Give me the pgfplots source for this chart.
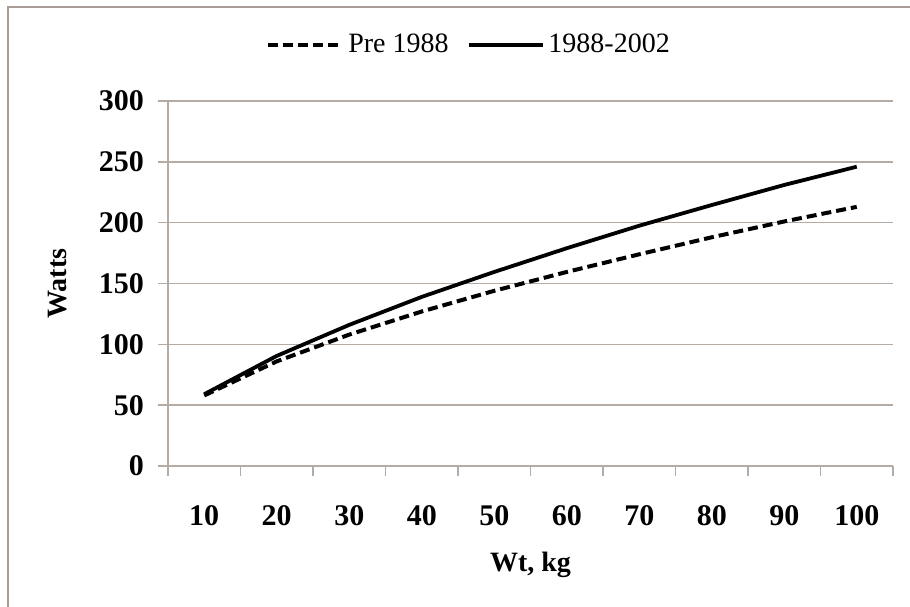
\documentclass[border=0pt]{standalone}
\usepackage{pgfplots}
\pgfplotsset{compat=1.18}
\usepackage{fontspec}
\setmainfont{Liberation Serif}
\definecolor{gridc}{HTML}{B5ABA5}
\definecolor{framec}{HTML}{A89C96}

\begin{document}
\begin{tikzpicture}
% page size: 910x606 px at 2 px per pt, axis lower left at (0,0)
\path[use as bounding box] (-84pt,-70pt) rectangle (371pt,233pt);
\fill[white] (-84pt,-70pt) rectangle (371pt,233pt);
\draw[framec, line width=1.1pt] (-80pt,-80pt) -- (-80pt,229.5pt) -- (380pt,229.5pt);
\begin{axis}[
    at={(0,0)}, anchor=south west,
    width=362.5pt, height=182.5pt,
    scale only axis,
    xmin=5, xmax=105,
    ymin=0, ymax=300,
    axis x line=bottom, axis y line=left,
    axis line style={gridc, line width=0.8pt, -},
    ytick={0,50,...,300},
    ymajorgrids=true,
    grid style={gridc, line width=0.8pt},
    xtick={5,15,...,105},
    xticklabels={},
    extra x ticks={10,20,...,100},
    extra x tick style={major tick length=0pt, grid=none},
    tick align=outside,
    major tick length=5pt,
    tick style={gridc, line width=0.8pt},
    /pgf/number format/assume math mode=true,
    ticklabel style={font=\bfseries\fontsize{15}{15}\selectfont, black},
    yticklabel style={xshift=-3.5pt},
    xticklabel style={yshift=-16pt},
    xlabel={\bfseries Wt, kg},
    ylabel={\bfseries Watts},
    label style={font=\fontsize{14}{14}\selectfont},
    xlabel style={at={(0.5,0)}, anchor=center, yshift=-49.5pt},
    ylabel style={at={(0,0.5)}, anchor=center, xshift=0pt, yshift=55pt},
    legend columns=2,
    legend style={at={(0.4166,1.153)}, anchor=center, draw=none, fill=none,
        font=\fontsize{14}{14}\selectfont,
        /tikz/every even column/.append style={column sep=7pt}},
    legend image code/.code={\draw[#1] (0pt,0pt) -- (37pt,0pt);},
]
\addplot[black, line width=2pt, dash pattern=on 5pt off 2.5pt] coordinates {
    (10,58)(20,86)(30,108)(40,127)(50,144)(60,159.5)(70,174)(80,188)(90,201)(100,213)
};
\addlegendentry{Pre 1988}
\addplot[black, line width=1.9pt] coordinates {
    (10,59)(20,90.5)(30,116)(40,139)(50,159.5)(60,179)(70,197.5)(80,214.5)(90,231)(100,246)
};
\addlegendentry{1988-2002}
\end{axis}
\end{tikzpicture}
\end{document}
